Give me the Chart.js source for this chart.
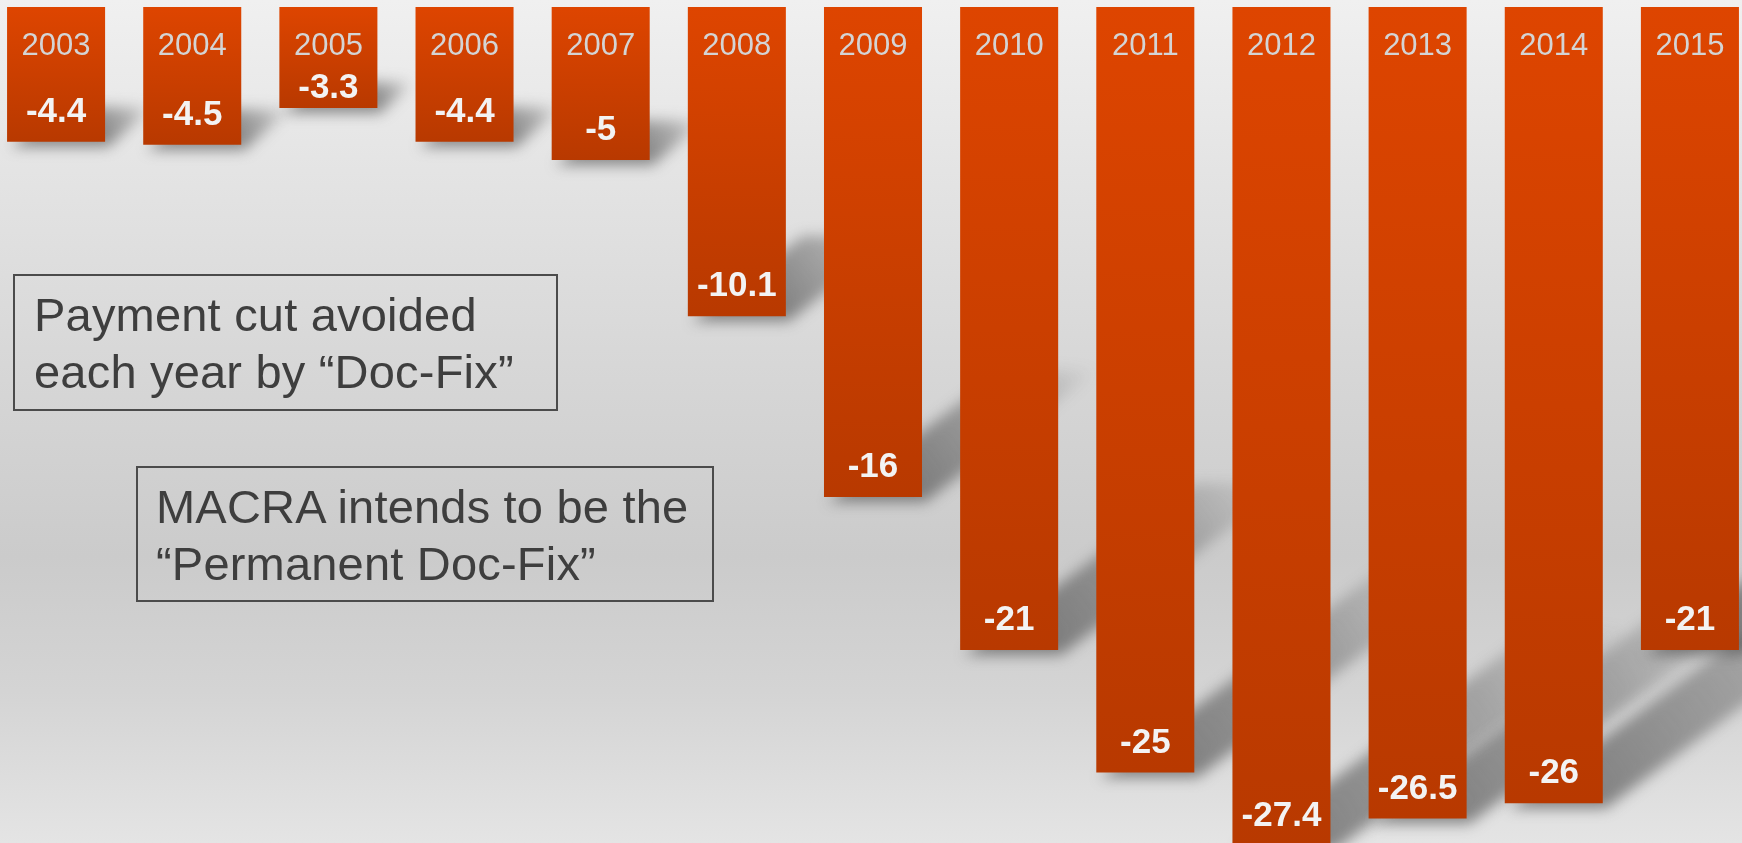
<!DOCTYPE html>
<html>
<head>
<meta charset="utf-8">
<script src="https://cdn.jsdelivr.net/npm/chart.js@4"></script>
<style>
  html, body { margin: 0; padding: 0; width: 1742px; height: 843px; overflow: hidden; }
  body {
    position: relative;
    background: linear-gradient(to bottom, #f0f0f0 0%, #e3e3e3 22%, #d6d6d6 45%, #cbcbcb 66%, #d4d4d4 82%, #e4e4e4 100%);
    font-family: "Liberation Sans", Arial, sans-serif;
  }
  #wrap { position: absolute; left: -12px; top: 0; width: 1770px; height: 843px; }
  .note {
    position: absolute; box-sizing: border-box;
    border: 2px solid #4b4b4b; color: #3e3e3e;
    font-size: 47px; line-height: 57px; white-space: nowrap;
    letter-spacing: 0.2px;
  }
</style>
</head>
<body>
<div id="wrap"><canvas id="cutChart"></canvas></div>
<div class="note" style="left:13px;top:274px;width:545px;height:137px;padding:10px 0 0 19px;">Payment cut avoided<br>each year by “Doc-Fix”</div>
<div class="note" style="left:136px;top:466px;width:578px;height:136px;padding:10px 0 0 18px;">MACRA intends to be the<br>“Permanent Doc-Fix”</div>
<script>
const years = ['2003', '2004', '2005', '2006', '2007', '2008', '2009', '2010', '2011', '2012', '2013', '2014', '2015'];
const cuts = [-4.4, -4.5, -3.3, -4.4, -5, -10.1, -16, -21, -25, -27.4, -26.5, -26, -21];
const yMin = -27.3;
const yMax = 0;

const ctx = document.getElementById('cutChart');

// each bar gets its own top-to-bottom gradient
function barFill(context) {
  const chart = context.chart;
  const y = chart.scales.y;
  if (!chart.chartArea || !y) return '#c84000';
  const top = y.getPixelForValue(0);
  const bottom = y.getPixelForValue(cuts[context.dataIndex]);
  const g = chart.ctx.createLinearGradient(0, top, 0, bottom);
  g.addColorStop(0, '#de4500');
  g.addColorStop(1, '#b83900');
  return g;
}

// soft slanted shadows behind the bars
const barShadows = {
  id: 'barShadows',
  beforeDatasetsDraw(chart) {
    const c = chart.ctx;
    chart.getDatasetMeta(0).data.forEach(bar => {
      const h = bar.y - bar.base;
      const xl = bar.x - bar.width / 2 + 4;
      const xr = bar.x + bar.width / 2;
      const dx = h * 0.36, dy = -h * 0.26;
      const g = c.createLinearGradient(xr, bar.y, xr + dx, bar.y + dy);
      g.addColorStop(0, 'rgba(70,70,70,0.6)');
      g.addColorStop(0.55, 'rgba(70,70,70,0.35)');
      g.addColorStop(1, 'rgba(70,70,70,0)');
      c.save();
      c.filter = 'blur(7px)';
      c.fillStyle = g;
      c.beginPath();
      c.moveTo(xl, bar.y + 5);
      c.lineTo(xr + 3, bar.y + 5);
      c.lineTo(xr + dx, bar.y + dy);
      c.lineTo(xl + dx, bar.y + dy);
      c.closePath();
      c.fill();
      c.restore();
    });
  }
};

// year on top of each bar, value near its end
const barLabels = {
  id: 'barLabels',
  afterDatasetsDraw(chart) {
    const c = chart.ctx;
    c.save();
    c.textAlign = 'center';
    c.textBaseline = 'alphabetic';
    chart.getDatasetMeta(0).data.forEach((bar, i) => {
      const yearBase = bar.base + 48;
      c.font = '31px "Liberation Sans", Arial, sans-serif';
      c.fillStyle = '#d4d4d4';
      c.fillText(years[i], bar.x, yearBase);
      c.font = 'bold 35px "Liberation Sans", Arial, sans-serif';
      c.fillStyle = '#f3f3f3';
      c.fillText(String(cuts[i]), bar.x, Math.max(bar.y - 20, yearBase + 43));
    });
    c.restore();
  }
};

new Chart(ctx, {
  type: 'bar',
  data: {
    labels: years,
    datasets: [{
      data: cuts,
      backgroundColor: barFill,
      borderWidth: 0,
      barPercentage: 0.72,
      categoryPercentage: 1
    }]
  },
  options: {
    responsive: true,
    maintainAspectRatio: false,
    animation: false,
    layout: { padding: { top: 7, left: 0, right: 0, bottom: 0 } },
    plugins: {
      legend: { display: false },
      tooltip: { enabled: false }
    },
    scales: {
      x: { display: false },
      y: { display: false, min: yMin, max: yMax }
    }
  },
  plugins: [barShadows, barLabels]
});
</script>
</body>
</html>
